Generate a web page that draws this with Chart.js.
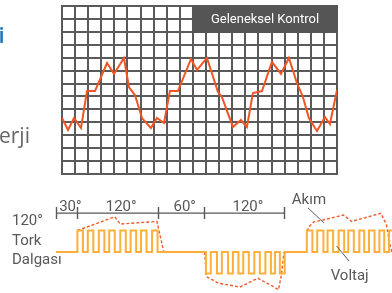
<!DOCTYPE html>
<html>
<head>
<meta charset="utf-8">
<script src="https://cdn.jsdelivr.net/npm/chart.js@4.4.1/dist/chart.umd.min.js"></script>
<style>
  html, body { margin: 0; padding: 0; background: #fff; }
  #wrap { position: relative; width: 392px; height: 293px; overflow: hidden; }
  canvas { position: absolute; left: 0; top: 0; }
</style>
</head>
<body>
<div id="wrap">
  <canvas id="waveChart" width="392" height="293"></canvas>
  <canvas id="gridChart" width="392" height="293"></canvas>
</div>
<script>
// ===== top: torque ripple, conventional control (grid units) =====
const rippleX = [0, 0.46, 0.92, 1.45, 1.91, 2.52, 3.44, 3.97, 4.73, 5.11, 5.57, 6.11, 6.79, 7.25, 7.79, 8.24, 8.85,
                 9.85, 10.31, 11.07, 11.91, 12.21, 13.05, 13.66, 14.12, 14.58, 15.27, 16.03, 16.72, 17.33, 17.94,
                 18.40, 18.85, 19.47, 20.08, 20.46, 21.0];
const rippleY = [4.33, 3.41, 4.33, 3.56, 6.42, 6.42, 8.59, 7.74, 8.98, 6.73, 6.11, 4.33, 3.56, 4.33, 3.95, 6.42, 6.42,
                 8.90, 8.05, 8.98, 6.35, 5.96, 3.64, 4.18, 3.64, 6.27, 6.42, 8.67, 7.74, 8.98, 7.04,
                 5.96, 4.33, 3.33, 4.41, 3.87, 6.50];
const gridCols = 21;
const gridRows = 13;
const boxLabel = 'Geleneksel Kontrol';

// ===== bottom: 120 deg torque wave (x in degrees, y in voltage level) =====
const tickDegs = [0, 30, 147, 214, 330];
const spanLabels = ['30°', '120°', '60°', '120°'];
const sideLabels = ['120°', 'Tork', 'Dalgası'];

const pos1Rise = [31, 46, 62, 77, 93, 108, 123, 139];
const pos1Fall = [39, 54, 70, 85, 101, 116, 131, 147];
const negDrop = [217, 233, 249, 264, 279, 295, 311, 324];
const negBack = [224, 240, 256, 271, 287, 303, 317, 331];
const pos2Rise = [363, 378, 393, 409, 423, 439, 453, 468, 482];
const pos2Fall = [371, 387, 401, 417, 431, 446, 461, 475];
const voltEnd = 487;

const current1 = [[31, 1.0], [85, 1.64], [93, 1.30], [146, 1.42], [156, 0]];
const current2 = [[215, 0], [218, -1.15], [235, -1.45], [266, -1.63], [292, -1.22], [313, -1.58], [322, -1.75], [326, -1.1], [330, 0]];
const current3 = [[363, 0.98], [367, 1.2], [373, 1.4], [388, 1.5], [416, 1.72], [428, 1.42], [470, 1.8], [478, 1.3], [483, 0.4], [486, 0]];

// build stepped voltage points from the edges
let voltPts = [{x: 0, y: 0}];
pos1Rise.forEach((r, i) => { voltPts.push({x: r, y: 1}); voltPts.push({x: pos1Fall[i], y: 0}); });
negDrop.forEach((d, i) => { voltPts.push({x: d, y: -1}); voltPts.push({x: negBack[i], y: 0}); });
pos2Rise.forEach((r, i) => { voltPts.push({x: r, y: 1}); if (i < pos2Fall.length) voltPts.push({x: pos2Fall[i], y: 0}); });
voltPts.push({x: voltEnd, y: 1});

const toPts = arr => arr.map(p => ({x: p[0], y: p[1]}));

const gray = '#585858';

// scale bar, labels, leader lines on the wave chart
const waveDecor = {
  id: 'waveDecor',
  afterDatasetsDraw(chart) {
    const {ctx, scales: {x, y}} = chart;
    ctx.save();
    const sy = y.getPixelForValue(1.81);
    ctx.strokeStyle = gray;
    ctx.lineWidth = 1.4;
    ctx.beginPath();
    ctx.moveTo(x.getPixelForValue(tickDegs[0]), sy);
    ctx.lineTo(x.getPixelForValue(tickDegs[tickDegs.length - 1]), sy);
    tickDegs.forEach(d => {
      const px = Math.round(x.getPixelForValue(d)) + 0.5;
      ctx.moveTo(px, sy - 6);
      ctx.lineTo(px, sy + 6);
    });
    ctx.stroke();

    ctx.fillStyle = gray;
    ctx.font = '15px Roboto';
    ctx.textAlign = 'center';
    ctx.textBaseline = 'alphabetic';
    spanLabels.forEach((t, i) => {
      const mid = (x.getPixelForValue(tickDegs[i]) + x.getPixelForValue(tickDegs[i + 1])) / 2;
      ctx.fillText(t, mid + 4, sy - 2);
    });

    ctx.textAlign = 'left';
    sideLabels.forEach((t, i) => ctx.fillText(t, 12, 225 + i * 19.5));

    // Akım / Voltaj callouts
    ctx.textAlign = 'center';
    ctx.fillText('Akım', x.getPixelForValue(366), y.getPixelForValue(2.23));
    ctx.fillText('Voltaj', x.getPixelForValue(425), y.getPixelForValue(-1.3));
    ctx.lineWidth = 1;
    ctx.beginPath();
    ctx.moveTo(x.getPixelForValue(364.7), y.getPixelForValue(2.05));
    ctx.lineTo(x.getPixelForValue(387.8), y.getPixelForValue(1.35));
    ctx.moveTo(x.getPixelForValue(406), y.getPixelForValue(0.28));
    ctx.lineTo(x.getPixelForValue(424), y.getPixelForValue(-0.42));
    ctx.stroke();
    ctx.restore();
  }
};

new Chart(document.getElementById('waveChart'), {
  type: 'line',
  data: {
    datasets: [
      { data: voltPts, stepped: true, borderColor: '#fbb03b', borderWidth: 2, pointRadius: 0 },
      { data: toPts(current1), borderColor: '#f15a29', borderWidth: 1.4, borderDash: [3, 2], pointRadius: 0, tension: 0 },
      { data: toPts(current2), borderColor: '#f15a29', borderWidth: 1.4, borderDash: [3, 2], pointRadius: 0, tension: 0 },
      { data: toPts(current3), borderColor: '#f15a29', borderWidth: 1.4, borderDash: [3, 2], pointRadius: 0, tension: 0 }
    ]
  },
  options: {
    responsive: false,
    animation: false,
    layout: { padding: 0 },
    plugins: { legend: { display: false }, tooltip: { enabled: false } },
    scales: {
      x: { type: 'linear', display: false, min: -81.04, max: 486.25 },
      y: { display: false, min: -1.907, max: 11.72 }
    }
  },
  plugins: [waveDecor]
});

// dark label box + side texts on the grid chart
const gridDecor = {
  id: 'gridDecor',
  beforeDatasetsDraw(chart) {
    const {ctx, scales: {x, y}} = chart;
    ctx.save();
    const l = x.getPixelForValue(10) - 1, r = x.getPixelForValue(21) + 1;
    const t = y.getPixelForValue(13) - 1, b = y.getPixelForValue(11) + 1;
    ctx.fillStyle = '#555';
    ctx.fillRect(l, t, r - l, b - t);
    ctx.fillStyle = '#fff';
    ctx.font = '13px Roboto';
    ctx.textAlign = 'center';
    ctx.textBaseline = 'middle';
    ctx.fillText(boxLabel, (l + r) / 2, (t + b) / 2 + 1);
    ctx.restore();
  },
  afterDraw(chart) {
    const ctx = chart.ctx;
    ctx.save();
    ctx.textAlign = 'left';
    ctx.textBaseline = 'alphabetic';
    ctx.fillStyle = '#1b75bc';
    ctx.font = '600 22px "Open Sans"';
    ctx.fillText('i', -1.5, 43);
    ctx.fillStyle = '#666';
    ctx.font = '21px "Open Sans"';
    ctx.fillText('erji', -1, 143);
    ctx.restore();
  }
};

new Chart(document.getElementById('gridChart'), {
  type: 'line',
  data: {
    datasets: [{
      data: rippleX.map((x, i) => ({x: x, y: rippleY[i]})),
      borderColor: '#ef5623',
      borderWidth: 2,
      pointRadius: 0,
      tension: 0
    }]
  },
  options: {
    responsive: false,
    animation: false,
    layout: { padding: { left: 62, right: 55, top: 6, bottom: 119 } },
    plugins: { legend: { display: false }, tooltip: { enabled: false } },
    scales: {
      x: {
        type: 'linear', min: 0, max: gridCols,
        ticks: { display: false, stepSize: 1 },
        grid: { color: '#5a5a5a', lineWidth: 2, drawTicks: false },
        border: { color: '#5a5a5a', width: 2 }
      },
      y: {
        min: 0, max: gridRows,
        ticks: { display: false, stepSize: 1 },
        grid: { color: '#5a5a5a', lineWidth: 2, drawTicks: false },
        border: { color: '#5a5a5a', width: 2 }
      }
    }
  },
  plugins: [gridDecor]
});
</script>
</body>
</html>
